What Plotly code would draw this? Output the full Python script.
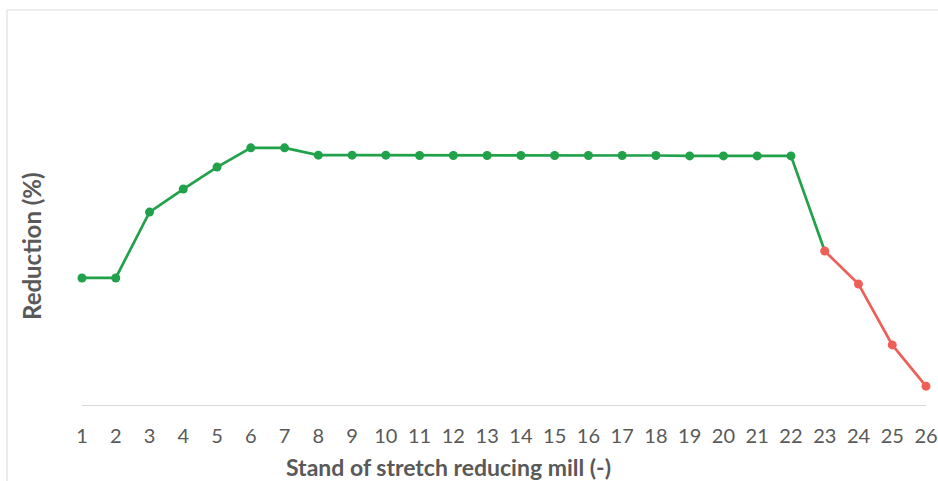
import plotly.graph_objects as go

stands = list(range(1, 27))
reduction = [3.30, 3.30, 5.01, 5.61, 6.18, 6.68, 6.68, 6.49, 6.49, 6.49, 6.48, 6.48, 6.48,
             6.48, 6.48, 6.48, 6.48, 6.48, 6.47, 6.47, 6.47, 6.47, 4.00, 3.14, 1.56, 0.49]
x_label = "Stand of stretch reducing mill (-)"
y_label = "Reduction (%)"

green_x = stands[:23]
green_y = reduction[:23]
red_x = stands[22:]
red_y = reduction[22:]

GREEN = "#22a14b"
RED = "#ef5f59"
GREY = "#595959"

W, H = 938, 481
PL, PT, PW, PH = 82, 20, 844, 385


def px(xp):
    return (xp - PL) / PW


def py(yp):
    return (PT + PH - yp) / PH


fig = go.Figure()
fig.add_trace(go.Scatter(x=green_x, y=green_y, mode="lines",
                         line=dict(color=GREEN, width=2.7), hoverinfo="skip",
                         cliponaxis=False, showlegend=False))
fig.add_trace(go.Scatter(x=green_x[:22], y=green_y[:22], mode="markers",
                         marker=dict(color=GREEN, size=9), cliponaxis=False, showlegend=False))
fig.add_trace(go.Scatter(x=red_x, y=red_y, mode="lines+markers",
                         line=dict(color=RED, width=2.7), marker=dict(color=RED, size=9),
                         cliponaxis=False, showlegend=False))

fig.update_layout(
    width=W, height=H,
    margin=dict(l=PL, r=W - PL - PW, t=PT, b=H - PT - PH, autoexpand=False),
    paper_bgcolor="white", plot_bgcolor="white",
    font=dict(family="Lato, Open Sans, sans-serif", color=GREY),
    xaxis=dict(range=[1, 26], tickmode="array", tickvals=stands,
               ticktext=[str(s) for s in stands], showgrid=False, zeroline=False,
               showline=True, linecolor="#d9d9d9", linewidth=1.3, automargin=False,
               ticks="", ticklabelstandoff=13, tickfont=dict(size=20, color=GREY)),
    yaxis=dict(range=[0, 10], showticklabels=False, showgrid=False, zeroline=False,
               showline=False, ticks="", automargin=False),
    annotations=[
        dict(text="<b>" + x_label + "</b>", xref="paper", yref="paper",
             x=px(448.5), y=py(467), xanchor="center", yanchor="middle",
             showarrow=False, font=dict(size=23, color=GREY)),
        dict(text="<b>" + y_label + "</b>", xref="paper", yref="paper",
             x=px(31), y=py(246), xanchor="center", yanchor="middle", textangle=-90,
             showarrow=False, font=dict(size=24, color=GREY)),
    ],
    shapes=[
        dict(type="line", xref="paper", yref="paper", x0=px(7), x1=px(940),
             y0=py(10), y1=py(10), line=dict(color="#d9d9d9", width=1), layer="below"),
        dict(type="line", xref="paper", yref="paper", x0=px(7), x1=px(7),
             y0=py(10), y1=py(490), line=dict(color="#d9d9d9", width=1), layer="below"),
    ],
)

fig.write_html("out.html",
               config={"displayModeBar": False},
               post_script="document.body.style.margin='0';"
                           "document.documentElement.style.overflow='hidden';"
                           "document.body.style.overflow='hidden';")
